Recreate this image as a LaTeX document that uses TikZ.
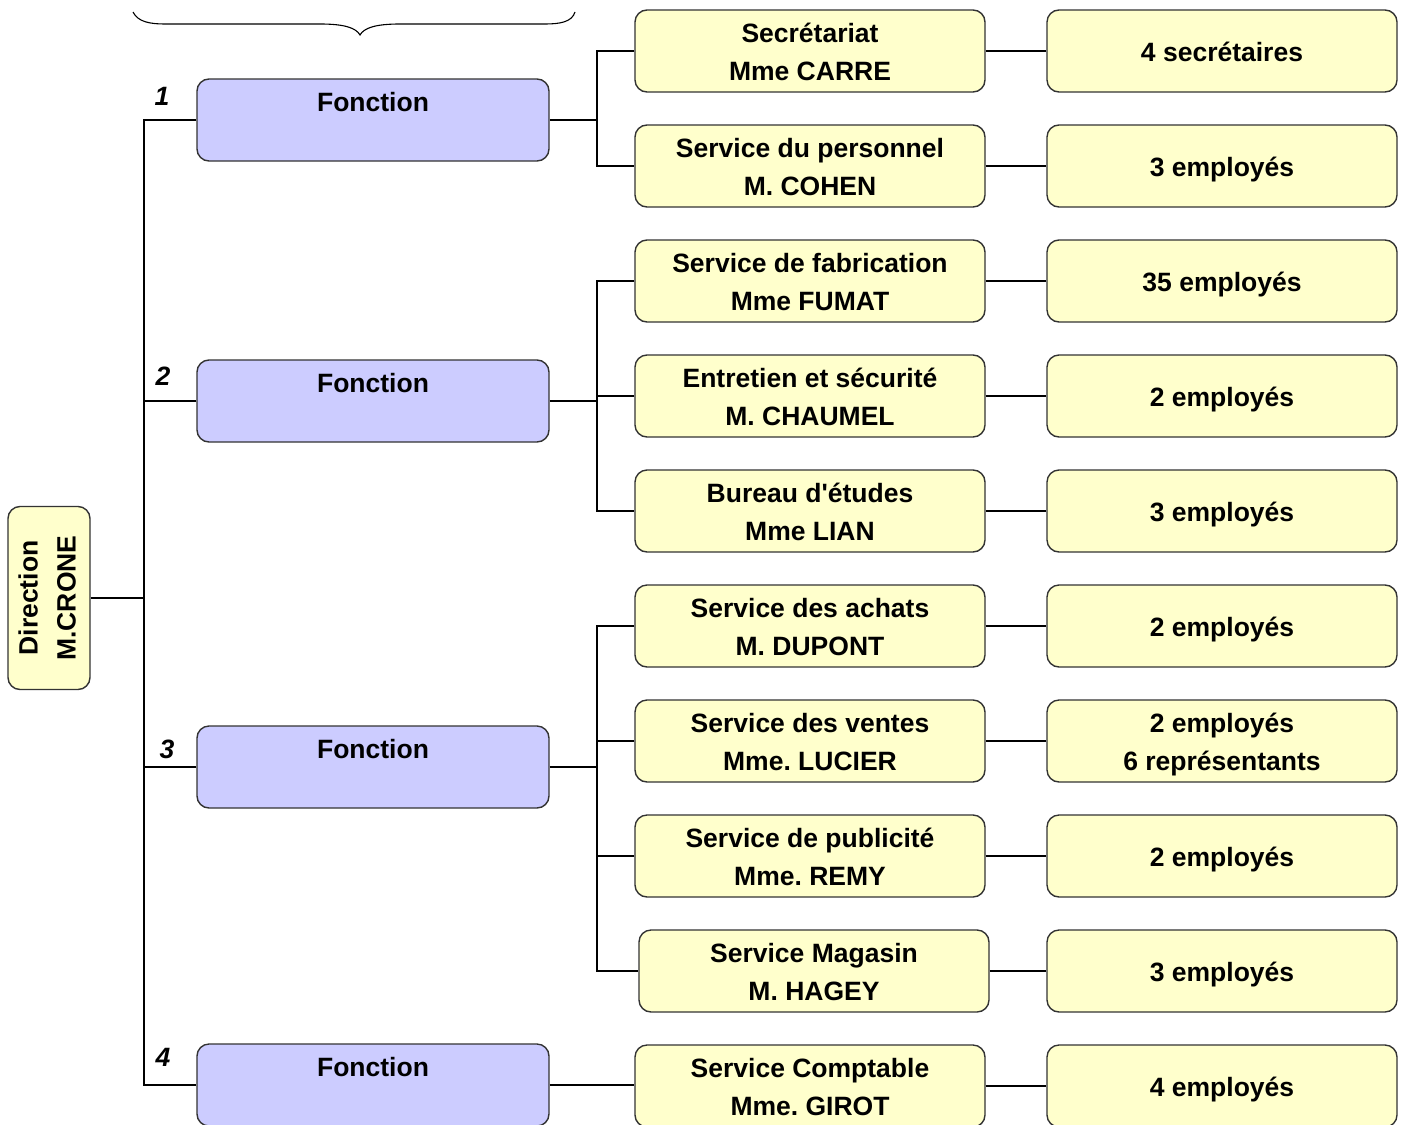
\documentclass[tikz,border=0pt]{standalone}
\usepackage{fontspec}
\setmainfont{Liberation Sans}
\frenchspacing
\definecolor{boxyellow}{HTML}{FFFFCC}
\definecolor{boxlav}{HTML}{CCCCFF}
\definecolor{edgegray}{HTML}{333333}
\newcommand\tstr{\rule{0pt}{15.8pt}}
\newcommand\bstr{\rule[-5.7pt]{0pt}{0pt}}
\begin{document}
\begin{tikzpicture}[x=0.5pt,y=-0.5pt,
  txt/.style={font=\fontsize{13.25}{19}\selectfont\bfseries, align=center, inner sep=0pt},
  basebox/.style={txt, draw=edgegray, line width=0.7pt, rounded corners=6pt,
    minimum width=175pt, minimum height=41pt},
  svcbox/.style={basebox, fill=boxyellow},
  fctbox/.style={basebox, fill=boxlav, minimum width=176pt},
  dirbox/.style={basebox, fill=boxyellow, rotate=90, minimum width=91.5pt, minimum height=41pt},
  numlbl/.style={font=\fontsize{13.25}{19}\selectfont\bfseries\itshape, inner sep=0pt},
  conn/.style={draw=black, line width=0.55pt}]
\useasboundingbox (0,0) rectangle (1402,1124);

% Direction
\node[dirbox] (dir) at (49,598) {\strut Direction\\\strut M.CRONE};

% Fonctions
\node[fctbox] (f1) at (373,120)  {\tstr Fonction\\\bstr};
\node[fctbox] (f2) at (373,401)  {\tstr Fonction\\\bstr};
\node[fctbox] (f3) at (373,767)  {\tstr Fonction\\\bstr};
\node[fctbox] (f4) at (373,1085) {\tstr Fonction\\\bstr};

\node[numlbl] (n1) at (162,96)   {1};
\node[numlbl] (n2) at (163,376)  {2};
\node[numlbl] (n3) at (167,749)  {3};
\node[numlbl] (n4) at (163,1057) {4};

% Services
\node[svcbox] (s1)  at (810,51)   {\tstr Secrétariat\\Mme CARRE\bstr};
\node[svcbox] (s2)  at (810,166)  {\tstr Service du personnel\\M. COHEN\bstr};
\node[svcbox] (s3)  at (810,281)  {\tstr Service de fabrication\\Mme FUMAT\bstr};
\node[svcbox] (s4)  at (810,396)  {\tstr Entretien et sécurité\\M. CHAUMEL\bstr};
\node[svcbox] (s5)  at (810,511)  {\tstr Bureau d\textquotesingle études\\Mme LIAN\bstr};
\node[svcbox] (s6)  at (810,626)  {\tstr Service des achats\\M. DUPONT\bstr};
\node[svcbox] (s7)  at (810,741)  {\tstr Service des ventes\\Mme. LUCIER\bstr};
\node[svcbox] (s8)  at (810,856)  {\tstr Service de publicité\\Mme. REMY\bstr};
\node[svcbox] (s9)  at (814,971)  {\tstr Service Magasin\\M. HAGEY\bstr};
\node[svcbox] (s10) at (810,1086) {\tstr Service Comptable\\Mme. GIROT\bstr};

% Staff
\node[svcbox] (r1)  at (1222,51)   {\tstr 4 secrétaires\bstr};
\node[svcbox] (r2)  at (1222,166)  {\tstr 3 employés\bstr};
\node[svcbox] (r3)  at (1222,281)  {\tstr 35 employés\bstr};
\node[svcbox] (r4)  at (1222,396)  {\tstr 2 employés\bstr};
\node[svcbox] (r5)  at (1222,511)  {\tstr 3 employés\bstr};
\node[svcbox] (r6)  at (1222,626)  {\tstr 2 employés\bstr};
\node[svcbox] (r7)  at (1222,741)  {\tstr 2 employés\\6 représentants\bstr};
\node[svcbox] (r8)  at (1222,856)  {\tstr 2 employés\bstr};
\node[svcbox] (r9)  at (1222,971)  {\tstr 3 employés\bstr};
\node[svcbox] (r10) at (1222,1086) {\tstr 4 employés\bstr};

% trunk
\coordinate (ta) at (144,598);
\draw[conn] (f1.west) -| (ta) |- (f4.west);
\draw[conn] (dir.south) -- (ta);
\draw[conn] (f2.west) -- (f2.west -| ta);
\draw[conn] (f3.west) -- (f3.west -| ta);

% branch 1
\coordinate (b1) at (597,117);
\draw[conn] (s1.west) -| (b1) |- (s2.west);
\draw[conn] (f1.east) -- (f1.east -| b1);
% branch 2
\coordinate (b2) at (597,404);
\draw[conn] (s3.west) -| (b2) |- (s5.west);
\draw[conn] (s4.west) -- (s4.west -| b2);
\draw[conn] (f2.east) -- (f2.east -| b2);
% branch 3
\coordinate (b3) at (597,767);
\draw[conn] (s6.west) -| (b3) |- (s9.west);
\draw[conn] (s7.west) -- (s7.west -| b3);
\draw[conn] (s8.west) -- (s8.west -| b3);
\draw[conn] (f3.east) -- (f3.east -| b3);
% branch 4
\draw[conn] (f4.east) -- (f4.east -| s10.west);

% services to staff
\foreach \i in {1,...,10} { \draw[conn] (s\i.east) -- (r\i.west); }

% brace
\draw[conn] (133,12) .. controls (138,22) and (150,24) .. (165,24) -- (320,24)
  .. controls (345,24) and (356,28) .. (360,35)
  .. controls (364,28) and (375,24) .. (400,24) -- (545,24)
  .. controls (560,24) and (572,22) .. (575,12);
\end{tikzpicture}
\end{document}
